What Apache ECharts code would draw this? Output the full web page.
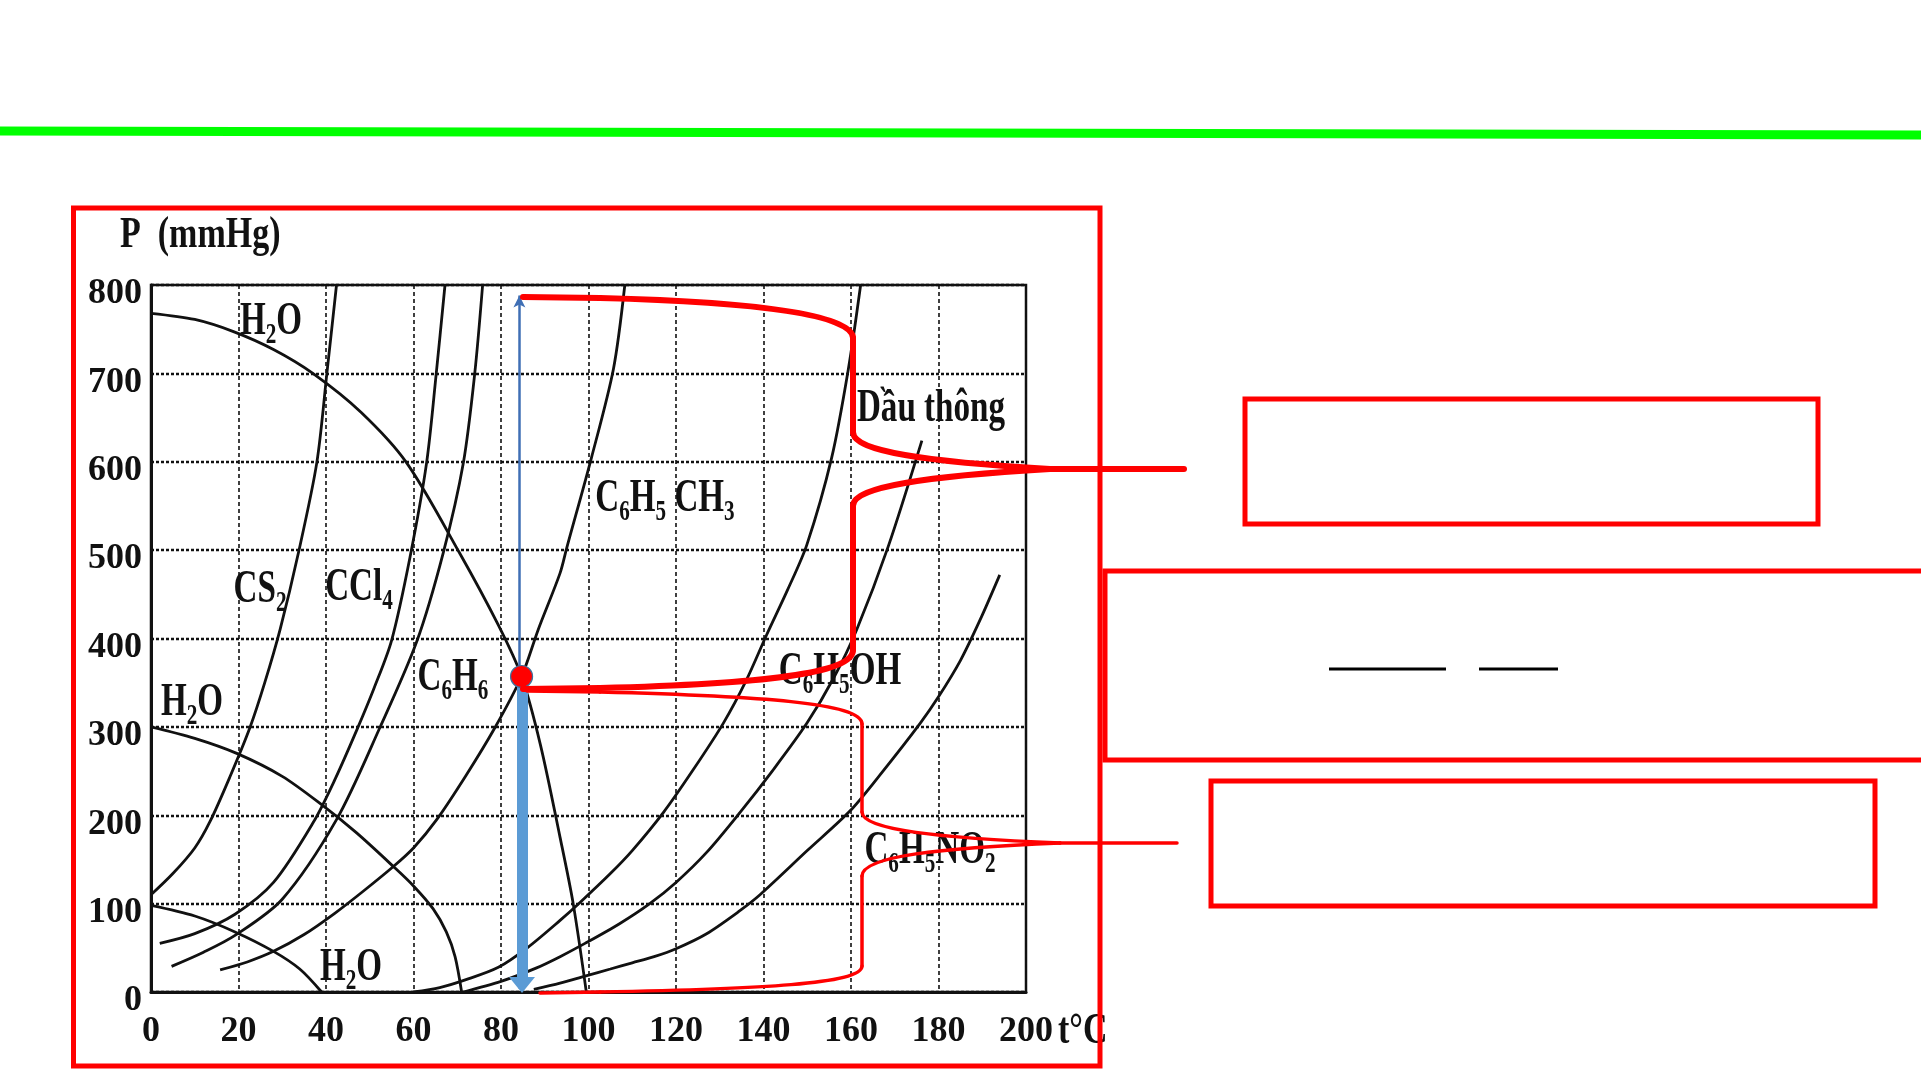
<!DOCTYPE html>
<html>
<head>
<meta charset="utf-8">
<title>Áp suất hơi bão hòa</title>
<script src="https://cdn.jsdelivr.net/npm/echarts@6/dist/echarts.min.js"></script>
<style>
html, body { margin: 0; padding: 0; background: #fff; }
#chart { width: 1921px; height: 1081px; }
</style>
</head>
<body>
<div id="chart"></div>
<script>
// truc: nhiet do (t, do C) va ap suat (P, mmHg)
var xTicks = [0, 20, 40, 60, 80, 100, 120, 140, 160, 180, 200]
var yTicks = [0, 100, 200, 300, 400, 500, 600, 700, 800]

// cac duong cong doc tu hinh [t, P]
var h2oTop = [[0, 768], [10, 761], [19, 747], [28, 727], [37, 700], [48, 656], [58.4, 599], [70.5, 497], [79.4, 415], [84.7, 357], [89, 280], [93.5, 175], [96.5, 100], [99.5, 0]]
var h2oMid = [[0, 300], [10, 287], [19.6, 270], [30, 244], [39, 212], [47, 180], [55.4, 142], [60, 120], [64.5, 94], [67.5, 68], [69.5, 40], [71, 0]]
var h2oLow = [[0, 98], [10, 86], [19.2, 68], [28, 46], [34, 26], [39, 0]]
var cs2 = [[0, 110], [5, 134], [10, 163], [13.5, 193], [18, 243], [22.6, 299], [26, 350], [29.5, 410], [33.7, 497], [37.9, 599], [40.2, 700], [42.4, 800]]
var ccl4 = [[2, 55], [10, 66], [19.2, 88], [28, 124], [37.1, 192], [42, 240], [47, 296], [51, 344], [55, 398], [59.2, 492], [63, 599], [65.2, 700], [67.2, 800]]
var c6h6 = [[4.7, 29], [12, 45], [19.2, 64], [30, 105], [42.4, 195], [52.3, 299], [60.7, 396], [66.8, 497], [71.4, 599], [74, 700], [75.8, 800]]
var toluen = [[15.8, 25], [22, 34], [28, 46], [35, 65], [42, 89], [48.5, 114], [55.4, 142], [60, 163], [65.3, 195], [72, 245], [78.6, 299], [84.7, 357], [88.5, 410], [93.5, 474], [95, 502], [100.7, 605], [105.7, 705], [108.3, 800]]
var dauThong = [[60, 0], [66, 5], [72, 14], [79.4, 28], [86, 50], [93.5, 81], [98, 101], [105, 134], [110, 160], [117.1, 203], [124, 252], [130.8, 304], [136, 352], [140.7, 404], [145.5, 455], [149.9, 506], [155.6, 605], [159.4, 705], [162.2, 800]]
var phenol = [[71.4, 0], [80, 12], [88, 27], [93.5, 40], [99.2, 55], [107, 77], [114, 100], [120, 124], [127, 158], [134.6, 203], [142, 250], [149.9, 304], [156, 355], [161.3, 410], [168.5, 504], [176.2, 624]]
var nitro = [[87.5, 3], [93.5, 10], [99.2, 18], [105, 26], [110, 33], [115, 40], [120, 49], [127, 66], [134.6, 92], [139.2, 110], [150, 160], [159.8, 205], [167, 248], [175.8, 304], [180, 334], [185, 375], [189.5, 421], [194, 472]]

// diem soi (giao diem) va hai mui ten
var dotPoint = [84.7, 357]
var thinArrow = [[84.2, 788], [84.2, 4]]
var thickArrow = [[84.8, 357], [84.8, 8]]

var chart = echarts.init(document.getElementById('chart'))

function curve (name, data) {
  return {
    name: name,
    type: 'line',
    data: data,
    smooth: 0.3,
    symbol: 'none',
    silent: true,
    lineStyle: { color: '#111', width: 2.8 },
    z: 3
  }
}

var serif = 'Liberation Serif'
var richStyle = {
  n: { fontSize: 36, fontFamily: serif, fontWeight: 'bold', lineHeight: 44, fill: '#111' },
  s: { fontSize: 23, fontFamily: serif, fontWeight: 'bold', lineHeight: 22, verticalAlign: 'bottom', fill: '#111' }
}

// chu so -> chi so duoi
function chem (txt) {
  return txt.split('').map(function (c) {
    return /[0-9]/.test(c) ? '{s|' + c + '}' : '{n|' + c + '}'
  }).join('')
}

function label (txt, x, y) {
  return {
    type: 'text', x: x, y: y, scaleX: 0.92, scaleY: 1.3, z: 50,
    style: { text: chem(txt), rich: richStyle, align: 'center', verticalAlign: 'middle', fill: '#111' }
  }
}

// ngoac nhon mau do: doan thang [x1,y1,x2,y2] hoac bezier [x1,y1,c1x,c1y,c2x,c2y,x2,y2]
function brace (segs, width) {
  return segs.map(function (s) {
    if (s.length === 4) {
      return { type: 'line', z: 60, shape: { x1: s[0], y1: s[1], x2: s[2], y2: s[3] }, style: { stroke: '#ff0000', lineWidth: width, lineCap: 'round' } }
    }
    return {
      type: 'bezierCurve', z: 60,
      shape: { x1: s[0], y1: s[1], cpx1: s[2], cpy1: s[3], cpx2: s[4], cpy2: s[5], x2: s[6], y2: s[7] },
      style: { stroke: '#ff0000', fill: 'none', lineWidth: width, lineCap: 'round' }
    }
  })
}

var upperBrace = brace([
  [523, 297, 600, 298],
  [600, 298, 760, 302, 853, 315, 853, 338],
  [853, 338, 853, 432],
  [853, 432, 853, 452, 930, 462, 1050, 469],
  [1050, 469, 1184, 469],
  [1050, 469, 930, 476, 853, 486, 853, 506],
  [853, 506, 853, 650],
  [853, 650, 853, 674, 760, 684, 600, 688],
  [600, 688, 523, 689]
], 6)

var lowerBrace = brace([
  [527, 691, 600, 692],
  [600, 692, 760, 696, 862, 703, 862, 724],
  [862, 724, 862, 812],
  [862, 812, 862, 830, 940, 838, 1060, 843],
  [1060, 843, 1177, 843],
  [1060, 843, 940, 848, 862, 856, 862, 876],
  [862, 876, 862, 966],
  [862, 966, 862, 984, 760, 989, 600, 992],
  [600, 992, 540, 993]
], 3.5)

var graphics = [
  { type: 'line', z: 40, shape: { x1: 0, y1: 131, x2: 1921, y2: 135 }, style: { stroke: '#00ff00', lineWidth: 9 } },
  { type: 'rect', z: 70, shape: { x: 73.5, y: 208, width: 1026.5, height: 858 }, style: { fill: 'none', stroke: '#ff0000', lineWidth: 5 } },
  { type: 'rect', z: 70, shape: { x: 1245, y: 399, width: 573, height: 125 }, style: { fill: 'none', stroke: '#ff0000', lineWidth: 5 } },
  { type: 'rect', z: 70, shape: { x: 1211, y: 781, width: 664, height: 125 }, style: { fill: 'none', stroke: '#ff0000', lineWidth: 5 } },
  { type: 'polyline', z: 70, shape: { points: [[1921, 571], [1105, 571], [1105, 760], [1921, 760]] }, style: { fill: 'none', stroke: '#ff0000', lineWidth: 5 } },
  { type: 'line', z: 70, shape: { x1: 1329, y1: 669, x2: 1446, y2: 669 }, style: { stroke: '#000', lineWidth: 3 } },
  { type: 'line', z: 70, shape: { x1: 1479, y1: 669, x2: 1558, y2: 669 }, style: { stroke: '#000', lineWidth: 3 } },
  {
    type: 'text', x: 120, y: 236, scaleY: 1.3, z: 50,
    style: { text: 'P  (mmHg)', fontSize: 34, fontWeight: 'bold', fontFamily: serif, fill: '#111', align: 'left', verticalAlign: 'middle' }
  },
  {
    type: 'text', x: 1058, y: 1032, scaleY: 1.3, z: 50,
    style: { text: 't°C', fontSize: 34, fontWeight: 'bold', fontFamily: serif, fill: '#111', align: 'left', verticalAlign: 'middle' }
  },
  label('H2O', 271, 322),
  label('CS2', 260, 590),
  label('CCl4', 359, 588),
  label('C6H6', 453, 678),
  label('H2O', 192, 703),
  label('H2O', 351, 968),
  label('C6H5 CH3', 665, 499),
  label('Dầu thông', 931, 409),
  label('C6H5OH', 840, 672),
  label('C6H5NO2', 930, 851)
].concat(upperBrace, lowerBrace)

var option = {
  backgroundColor: '#fff',
  animation: false,
  grid: {
    left: 151, right: 895, top: 285, bottom: 89,
    show: true, borderColor: '#111', borderWidth: 2.5
  },
  xAxis: {
    type: 'value',
    min: xTicks[0], max: xTicks[xTicks.length - 1], interval: xTicks[1] - xTicks[0],
    axisLine: { show: true, lineStyle: { color: '#111', width: 3 } },
    axisTick: { show: false },
    axisLabel: { fontSize: 36, fontWeight: 'bold', fontFamily: serif, color: '#111', margin: 22 },
    splitLine: { show: true, lineStyle: { color: '#111', width: 1.6, type: [4, 3] } }
  },
  yAxis: {
    type: 'value',
    min: yTicks[0], max: yTicks[yTicks.length - 1], interval: yTicks[1] - yTicks[0],
    axisLine: { show: true, lineStyle: { color: '#111', width: 3 } },
    axisTick: { show: false },
    axisLabel: {
      margin: 9,
      formatter: '{v|{value}}',
      rich: { v: { fontSize: 36, fontWeight: 'bold', fontFamily: serif, color: '#111', padding: [18, 0, 0, 0] } }
    },
    splitLine: { show: true, lineStyle: { color: '#111', width: 2.4, type: [3, 2] } }
  },
  series: [
    curve('H2O', h2oTop),
    curve('H2O (300)', h2oMid),
    curve('H2O (100)', h2oLow),
    curve('CS2', cs2),
    curve('CCl4', ccl4),
    curve('C6H6', c6h6),
    curve('C6H5CH3', toluen),
    curve('Dầu thông', dauThong),
    curve('C6H5OH', phenol),
    curve('C6H5NO2', nitro),
    {
      name: 'mui ten mong',
      type: 'line',
      data: [thinArrow[0]],
      symbol: 'none',
      lineStyle: { opacity: 0 },
      silent: true,
      z: 7,
      markLine: {
        silent: true,
        label: { show: false },
        symbol: ['arrow', 'none'],
        symbolSize: [9, 12],
        lineStyle: { color: '#3f6fb5', width: 2.5, type: 'solid' },
        data: [[{ coord: thinArrow[0] }, { coord: thinArrow[1] }]]
      }
    },
    {
      name: 'mui ten day',
      type: 'line',
      data: [thickArrow[0]],
      symbol: 'none',
      lineStyle: { opacity: 0 },
      silent: true,
      z: 8,
      markLine: {
        silent: true,
        label: { show: false },
        symbol: ['none', 'triangle'],
        symbolSize: [26, 16],
        itemStyle: { color: '#5b9bd5' },
        lineStyle: { color: '#5b9bd5', width: 11, type: 'solid', opacity: 1 },
        data: [[{ coord: thickArrow[0] }, { coord: thickArrow[1] }]]
      }
    },
    {
      name: 'diem',
      type: 'scatter',
      data: [dotPoint],
      symbolSize: 22,
      silent: true,
      itemStyle: { color: '#ff0000', borderColor: '#41719c', borderWidth: 1.2, opacity: 1 },
      z: 20
    }
  ],
  graphic: { elements: graphics }
}

chart.setOption(option)
</script>
</body>
</html>
